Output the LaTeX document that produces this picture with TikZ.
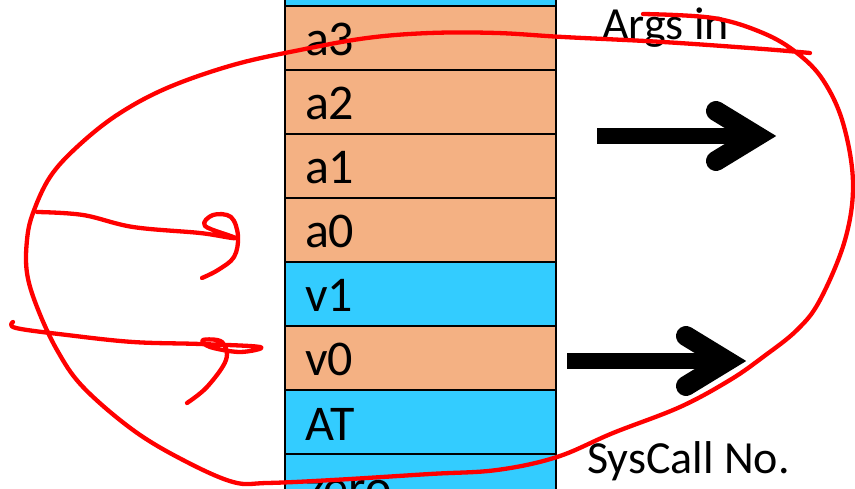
\documentclass[tikz,border=0pt]{standalone}
\usepackage{fontspec}
\setmainfont{Carlito}
\definecolor{argorange}{HTML}{F4B183}
\definecolor{regblue}{HTML}{33CCFF}

\tikzset{
	reg/.style={draw=black, line width=1.5pt, inner sep=0pt, outer sep=0pt,
		minimum width=271pt, minimum height=64pt, text width=231pt, align=left,
		text height=40pt, text depth=4pt, font=\fontsize{50}{56}\selectfont},
	argreg/.style={reg, fill=argorange},
	tmpreg/.style={reg, fill=regblue},
	note/.style={inner sep=0pt, anchor=base west, font=\fontsize{46}{52}\selectfont},
	shaft/.style={line width=16pt},
	chevron/.style={line width=20pt, line cap=round, line join=miter},
	pen/.style={draw=red, line width=4.3pt, line cap=round, line join=round}
}

\begin{document}
\begin{tikzpicture}[x=1pt, y=-1pt]
		\useasboundingbox (0,0) rectangle (855,489);
		\clip (0,0) rectangle (855,489);

		% register stack
		\node[tmpreg] (ra) at (420.5,-26) {};
		\node[argreg] (a3) at (420.5,38) {a3};
		\node[argreg] (a2) at (420.5,102) {a2};
		\node[argreg] (a1) at (420.5,166) {a1};
		\node[argreg] (a0) at (420.5,230) {a0};
		\node[tmpreg] (v1) at (420.5,294) {v1};
		\node[argreg] (v0) at (420.5,358) {v0};
		\node[tmpreg] (at) at (420.5,422) {AT};
		\node[tmpreg] (zero) at (420.5,486) {zero};

		\node[note] (args) at (602,40) {Args in};
		\node[note] (syscall) at (587,473) {SysCall No.};

		% block arrows
		\coordinate (argtail) at (597,136);
		\coordinate (arghead) at (757,136);
		\coordinate (numtail) at (567,361);
		\coordinate (numhead) at (727,361);
		\draw[shaft] (argtail) -- (arghead);
		\draw[chevron] ([shift={(-41,-25)}]arghead) -- (arghead) -- ([shift={(-41,25)}]arghead);
		\draw[shaft] (numtail) -- (numhead);
		\draw[chevron] ([shift={(-41,-25)}]numhead) -- (numhead) -- ([shift={(-41,25)}]numhead);

		% red pen marks
		\draw[pen] plot[smooth, tension=0.6] coordinates {(643,14) (713,18) (763,33) (797,53) (823,80)
			(843,123) (853,183) (845,240) (820,300) (797,330) (763,357) (730,380) (680,407) (613,433)
			(557,457) (497,470) (430,474) (333,480) (267,483) (233,482) (183,460) (133,430) (83,387)
			(57,350) (37,307) (27,273) (27,240) (33,213) (50,177) (77,147) (117,115) (167,88) (233,65)
			(300,50) (367,38) (430,33) (497,33) (563,37) (663,42) (763,49) (810,53)};
		\draw[pen] plot[smooth, tension=0.6] coordinates {(37,212) (83,215) (133,227) (200,233) (235,238)
			(205,226) (213,215) (231,217) (238,236) (234,257) (218,270) (202,278)};
		\draw[pen] plot[smooth, tension=0.6] coordinates {(13,322) (16,328) (67,335) (133,342) (200,344)
			(260,347) (240,352) (210,347) (203,340) (222,342) (226,360) (207,387) (187,403)};
	\end{tikzpicture}
\end{document}
